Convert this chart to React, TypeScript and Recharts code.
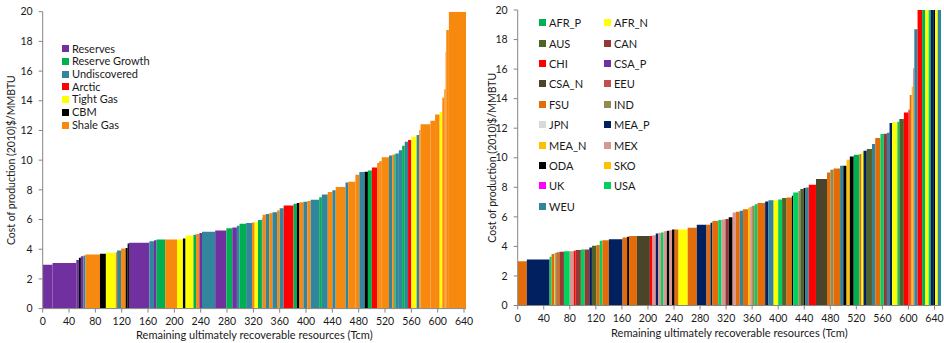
import React from 'react';
import { ComposedChart, XAxis, YAxis, ReferenceArea, Legend, Line } from 'recharts';

const FONT = 'Lato, "Open Sans", sans-serif';
const AXIS = '#868686';
const TEXT = '#1a1a1a';

const xTicks = [0, 40, 80, 120, 160, 200, 240, 280, 320, 360, 400, 440, 480, 520, 560, 600, 640];
const yTicks = [0, 2, 4, 6, 8, 10, 12, 14, 16, 18, 20];
const yTitle = 'Cost of production (2010)$/MMBTU';
const xTitle = 'Remaining ultimately recoverable resources (Tcm)';

// ---- Left panel: by resource type ----
const leftCategories = ['Reserves', 'Reserve Growth', 'Undiscovered', 'Arctic', 'Tight Gas', 'CBM', 'Shale Gas'];
const leftColors = ['#7030A0', '#00B050', '#31859C', '#FF0000', '#FFFF00', '#000000', '#F7890F'];

const leftEnds = [15, 51, 55, 58, 62, 65, 87, 96, 111, 113, 119, 126, 129, 131, 162, 169, 173, 186, 204, 213, 217, 229, 233, 238, 242, 262, 279, 288, 295, 299, 309, 318, 322, 327, 333, 334, 339, 344, 349, 356, 360, 366, 381, 386, 390, 396, 402, 407, 420, 424, 433, 440, 445, 460, 464, 475, 481, 489, 494, 500, 508, 511, 515, 526, 531, 534, 536, 541, 546, 550, 555, 560, 568, 572, 574, 589, 596, 603, 607, 610, 612, 613, 617, 643];
const leftCosts = [2.95, 3.08, 3.27, 3.42, 3.53, 3.58, 3.65, 3.69, 3.76, 3.8, 3.91, 4.05, 4.09, 4.38, 4.43, 4.54, 4.6, 4.65, 4.65, 4.65, 4.72, 4.92, 4.97, 5.03, 5.1, 5.17, 5.26, 5.42, 5.46, 5.58, 5.72, 5.77, 5.8, 5.81, 5.97, 6.1, 6.33, 6.37, 6.42, 6.49, 6.6, 6.76, 6.94, 7.07, 7.12, 7.16, 7.2, 7.25, 7.34, 7.5, 7.68, 7.86, 7.97, 8.19, 8.5, 8.55, 9.02, 9.2, 9.22, 9.3, 9.5, 9.8, 9.92, 10.2, 10.32, 10.37, 10.4, 10.45, 10.67, 10.97, 11.24, 11.35, 11.58, 11.69, 12.03, 12.41, 12.65, 13.08, 13.24, 14.2, 14.77, 17.3, 18.76, 20];
const leftKinds = [0, 0, 0, 5, 0, 2, 6, 5, 4, 6, 2, 6, 5, 5, 0, 2, 0, 1, 6, 4, 5, 4, 1, 6, 0, 2, 0, 1, 0, 2, 1, 2, 6, 4, 1, 2, 6, 2, 6, 2, 6, 2, 3, 1, 5, 6, 2, 6, 2, 1, 2, 6, 2, 6, 2, 6, 6, 2, 5, 1, 3, 6, 6, 6, 2, 6, 1, 2, 2, 1, 2, 3, 4, 2, 6, 6, 6, 6, 4, 6, 6, 6, 6, 6];

// ---- Right panel: by region ----
const rightRegions = ['AFR_P', 'AFR_N', 'AUS', 'CAN', 'CHI', 'CSA_P', 'CSA_N', 'EEU', 'FSU', 'IND', 'JPN', 'MEA_P', 'MEA_N', 'MEX', 'ODA', 'SKO', 'UK', 'USA', 'WEU'];
const rightColors = ['#00B050', '#FFFF00', '#4F6228', '#953735', '#FF0000', '#7030A0', '#4A452A', '#C0504D', '#E36C09', '#948A54', '#D9D9D9', '#002060', '#FFC000', '#D99694', '#000000', '#FFC000', '#FF00FF', '#00D05E', '#31859C'];

const rightEnds = [14, 49, 52, 56, 58, 60, 64, 71, 80, 86, 89, 97, 103, 110, 114, 121, 126, 130, 140, 161, 168, 171, 183, 203, 207, 212, 216, 220, 224, 229, 233, 237, 241, 247, 261, 275, 290, 296, 299, 308, 313, 319, 324, 330, 335, 341, 346, 354, 357, 360, 364, 368, 380, 385, 393, 400, 406, 413, 421, 423, 431, 434, 439, 442, 447, 458, 475, 480, 485, 495, 500, 505, 510, 516, 525, 528, 531, 536, 544, 549, 557, 562, 567, 571, 575, 583, 586, 593, 600, 602, 605, 607, 609, 614, 621, 626, 631, 634, 639, 641, 645, 650];
const rightCosts = [3.0, 3.12, 3.3, 3.48, 3.55, 3.57, 3.61, 3.63, 3.68, 3.68, 3.7, 3.75, 3.79, 3.79, 3.93, 4.05, 4.09, 4.38, 4.42, 4.49, 4.6, 4.65, 4.7, 4.7, 4.7, 4.75, 4.88, 4.92, 4.94, 5.02, 5.06, 5.1, 5.15, 5.15, 5.15, 5.26, 5.47, 5.47, 5.6, 5.72, 5.78, 5.82, 5.85, 5.98, 6.3, 6.34, 6.41, 6.52, 6.64, 6.68, 6.75, 6.86, 6.93, 7.04, 7.13, 7.13, 7.18, 7.27, 7.31, 7.43, 7.65, 7.75, 7.88, 7.95, 7.99, 8.17, 8.56, 9.0, 9.19, 9.28, 9.46, 9.46, 9.86, 10.09, 10.2, 10.25, 10.36, 10.47, 10.59, 10.93, 11.33, 11.6, 11.62, 11.7, 12.35, 12.4, 12.44, 12.62, 13.07, 13.25, 14.24, 14.8, 16.05, 18.7, 20, 20, 20, 20, 20, 20, 20, 20];
const rightKinds = ['FSU', 'MEA_P', 'USA', 'FSU', 'MEA_N', 'WEU', 'FSU', 'CAN', 'USA', 'MEX', 'CHI', 'CAN', 'USA', 'CAN', 'MEA_P', 'AUS', 'FSU', 'USA', 'FSU', 'MEA_P', 'FSU', 'ODA', 'FSU', 'CSA_N', 'CHI', 'MEX', 'MEA_P', 'MEX', 'USA', 'MEX', 'ODA', 'MEX', 'ODA', 'FSU', 'AFR_N', 'FSU', 'MEA_P', 'FSU', 'MEA_P', 'FSU', 'USA', 'MEX', 'CAN', 'ODA', 'MEX', 'FSU', 'WEU', 'FSU', 'MEA_N', 'MEX', 'IND', 'USA', 'FSU', 'MEA_P', 'WEU', 'AFR_N', 'USA', 'AUS', 'FSU', 'ODA', 'USA', 'IND', 'AUS', 'ODA', 'WEU', 'CHI', 'CSA_N', 'FSU', 'IND', 'FSU', 'WEU', 'ODA', 'MEA_N', 'ODA', 'AFR_P', 'FSU', 'AFR_N', 'MEA_P', 'AUS', 'WEU', 'FSU', 'USA', 'CAN', 'WEU', 'MEA_P', 'AFR_N', 'USA', 'AUS', 'CHI', 'CHI', 'FSU', 'MEA_N', 'MEX', 'WEU', 'CHI', 'AFR_P', 'AFR_N', 'USA', 'MEA_P', 'ODA', 'AFR_N', 'WEU'];

type Seg = { x1: number; x2: number; cost: number; color: string };

function buildSegments(ends: number[], costs: number[], colorOf: (i: number) => string): Seg[] {
  return ends.map((e, i) => ({ x1: i === 0 ? 0 : ends[i - 1], x2: e, cost: costs[i], color: colorOf(i) }));
}

const leftSegs = buildSegments(leftEnds, leftCosts, (i) => leftColors[leftKinds[i]]);
const rightSegs = buildSegments(rightEnds, rightCosts, (i) => rightColors[rightRegions.indexOf(rightKinds[i])]);

const Swatch = ({ color }: { color: string }) => (
  <span style={{ display: 'inline-block', width: 7, height: 7, background: color, marginRight: 3 }} />
);

const LeftLegend = () => (
  <div style={{ fontFamily: FONT, fontSize: 11, color: TEXT, lineHeight: '12.7px' }}>
    {leftCategories.map((c, i) => (
      <div key={c} style={{ display: 'flex', alignItems: 'center', whiteSpace: 'nowrap' }}>
        <Swatch color={leftColors[i]} />
        {c}
      </div>
    ))}
  </div>
);

const RightLegend = () => (
  <div style={{ fontFamily: FONT, fontSize: 11, color: TEXT, display: 'grid', gridTemplateColumns: '65px 80px', gridAutoRows: '20.4px' }}>
    {rightRegions.map((r, i) => (
      <div key={r} style={{ display: 'flex', alignItems: 'center', whiteSpace: 'nowrap' }}>
        <Swatch color={rightColors[i]} />
        {r}
      </div>
    ))}
  </div>
);

type PanelProps = {
  segs: Seg[];
  maxX: number;
  width: number;
  margin: { top: number; right: number; bottom: number; left: number };
  xHeight: number;
  yWidth: number;
  yLabelOffset: number;
  xLabelOffset: number;
  legend: React.ReactNode;
  legendPos: { left: number; top: number };
};

const Panel = ({ segs, maxX, width, margin, xHeight, yWidth, yLabelOffset, xLabelOffset, legend, legendPos }: PanelProps) => {
  const lineData = segs.map((s) => ({ x: s.x1, cost: s.cost }));
  const tickStyle = { fontSize: 10.5, fill: TEXT, fontFamily: FONT };
  return (
    <ComposedChart width={width} height={343} data={lineData} margin={margin}>
      <XAxis
        dataKey="x"
        type="number"
        domain={[0, maxX]}
        ticks={xTicks}
        interval={0}
        allowDataOverflow
        tick={tickStyle}
        tickSize={4}
        tickMargin={5}
        axisLine={{ stroke: AXIS }}
        tickLine={{ stroke: AXIS }}
        height={xHeight}
        label={{ value: xTitle, position: 'insideBottom', offset: xLabelOffset, style: { fontSize: 11, fill: TEXT, fontFamily: FONT } }}
      />
      <YAxis
        type="number"
        domain={[0, 20]}
        ticks={yTicks}
        interval={0}
        allowDataOverflow
        tick={tickStyle}
        tickSize={4}
        tickMargin={6}
        width={yWidth}
        axisLine={{ stroke: AXIS }}
        tickLine={{ stroke: AXIS }}
        label={{ value: yTitle, angle: -90, position: 'insideLeft', offset: yLabelOffset, style: { textAnchor: 'middle', fontSize: 10.5, fill: TEXT, fontFamily: FONT } }}
      />
      {segs.map((s, i) => (
        <ReferenceArea key={i} x1={s.x1} x2={s.x2} y1={0} y2={Math.min(s.cost, 20)} fill={s.color} fillOpacity={1} stroke="none" ifOverflow="hidden" />
      ))}
      <Line dataKey="cost" stroke="none" dot={false} activeDot={false} isAnimationActive={false} legendType="none" />
      <Legend
        layout="vertical"
        align="center"
        verticalAlign="middle"
        wrapperStyle={{ left: legendPos.left, top: legendPos.top, width: 'auto', height: 'auto' }}
        content={() => legend}
      />
    </ComposedChart>
  );
};

export default function App() {
  return (
    <div style={{ position: 'absolute', left: 0, top: 0, width: 944, height: 343, background: '#fff', fontFamily: FONT }}>
      <div style={{ position: 'absolute', left: 0, top: 0 }}>
        <Panel
          segs={leftSegs}
          maxX={643}
          width={482}
          margin={{ top: 11.7, right: 16, bottom: 0, left: 0 }}
          xHeight={34.4}
          yWidth={42.7}
          yLabelOffset={11.5}
          xLabelOffset={4}
          legend={<LeftLegend />}
          legendPos={{ left: 62, top: 42.5 }}
        />
      </div>
      <div style={{ position: 'absolute', left: 472, top: 0 }}>
        <Panel
          segs={rightSegs}
          maxX={650}
          width={472}
          margin={{ top: 10, right: 3, bottom: 0, left: 0 }}
          xHeight={37.5}
          yWidth={45.7}
          yLabelOffset={20.5}
          xLabelOffset={6.3}
          legend={<RightLegend />}
          legendPos={{ left: 67, top: 12.5 }}
        />
      </div>
    </div>
  );
}
